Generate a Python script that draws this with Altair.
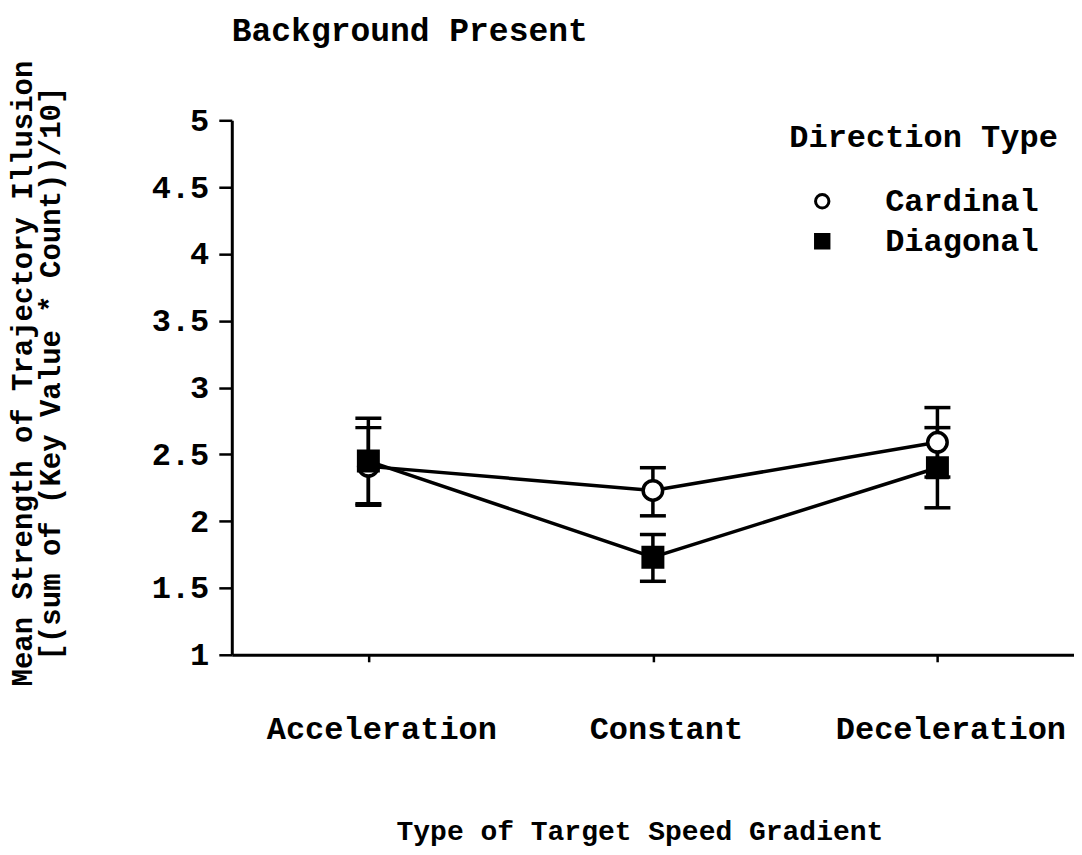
import altair as alt
import pandas as pd

categories = ["Acceleration", "Constant", "Deceleration"]
series = ["Cardinal", "Diagonal"]
cardinal_mean = [2.41, 2.23, 2.59]
cardinal_lo = [2.12, 2.04, 2.33]
cardinal_hi = [2.70, 2.40, 2.85]
diagonal_mean = [2.45, 1.73, 2.40]
diagonal_lo = [2.13, 1.55, 2.10]
diagonal_hi = [2.77, 1.90, 2.70]
y_ticks = [1, 1.5, 2, 2.5, 3, 3.5, 4, 4.5, 5]

rows = []
for name, m, lo, hi in [("Cardinal", cardinal_mean, cardinal_lo, cardinal_hi),
                        ("Diagonal", diagonal_mean, diagonal_lo, diagonal_hi)]:
    for c, mv, l, h in zip(categories, m, lo, hi):
        rows.append({"gradient": c, "direction": name, "mean": mv, "lo": l, "hi": h})
df = pd.DataFrame(rows)

FONT = "Liberation Mono"

x = alt.X("gradient:N", sort=categories,
          scale=alt.Scale(type="point", padding=0.48),
          axis=alt.Axis(title="Type of Target Speed Gradient", labelAngle=0,
                        labelPadding=52, labelOffset=13, labelLimit=0,
                        tickSize=7, tickWidth=2.5,
                        titleX=408, titleY=185, titleAlign="center",
                        titleBaseline="alphabetic"))
yscale = alt.Scale(domain=[1, 5], nice=False, zero=False)
yaxis = alt.Axis(values=y_ticks, format="~g", grid=False,
                 title=["Mean Strength of Trajectory Illusion",
                        "[(sum of (Key Value * Count))/10]"],
                 tickSize=13, labelPadding=10, titleFontSize=29,
                 titleX=-223, titleY=253, titleAlign="center",
                 titleBaseline="top", titleLineHeight=28, titleAngle=-90)

base = alt.Chart(df)

lines = base.mark_line(color="black", strokeWidth=3.5).encode(
    x=x, y=alt.Y("mean:Q", scale=yscale, axis=yaxis), detail="direction:N")

rules = base.mark_rule(color="black", strokeWidth=3.5).encode(
    x=x, y="lo:Q", y2="hi:Q")

cap_lo = base.mark_tick(color="black", orient="horizontal", size=26,
                        thickness=3.5, opacity=1).encode(x=x, y="lo:Q")
cap_hi = base.mark_tick(color="black", orient="horizontal", size=26,
                        thickness=3.5, opacity=1).encode(x=x, y="hi:Q")

leg = alt.Legend(title="Direction Type", symbolStrokeWidth=3,
                 titleLimit=0, labelLimit=0)

points = base.mark_point(filled=False, strokeWidth=3.5,
                         opacity=1, fillOpacity=1, size=380).encode(
    x=x, y="mean:Q",
    stroke=alt.value("black"),
    shape=alt.Shape("direction:N", scale=alt.Scale(domain=series, range=["circle", "square"]),
                    legend=leg),
    fill=alt.Fill("direction:N", scale=alt.Scale(domain=series, range=["white", "black"]),
                  legend=leg),
)

chart = alt.layer(lines, rules, cap_lo, cap_hi, points).properties(
    width=843, height=535,
    title=alt.Title("Background Present", anchor="start", offset=-14, frame="group",
                    baseline="alphabetic", font=FONT, fontSize=33,
                    fontWeight="bold", color="black"),
    padding={"left": 224, "top": 112, "right": 0, "bottom": 192},
    autosize=alt.AutoSizeParams(type="none"),
).configure_view(stroke=None).configure_axis(
    domainColor="black", domainWidth=3, tickColor="black", tickWidth=2.5,
    labelFont=FONT, labelFontSize=32, labelFontWeight="bold", labelColor="black",
    titleFont=FONT, titleFontSize=28, titleFontWeight="bold", titleColor="black",
).configure_legend(
    orient="none", legendX=558, legendY=2, padding=0,
    titleFont=FONT, titleFontSize=32, titleFontWeight="bold", titleColor="black",
    labelFont=FONT, labelFontSize=32, labelFontWeight="bold", labelColor="black",
    symbolSize=180, symbolStrokeWidth=3,
    symbolOffset=17, labelOffset=47, titlePadding=31, rowPadding=8,
    titleLimit=0, labelLimit=0,
)

chart.save("out.html", embed_options={"renderer": "svg", "actions": False})
